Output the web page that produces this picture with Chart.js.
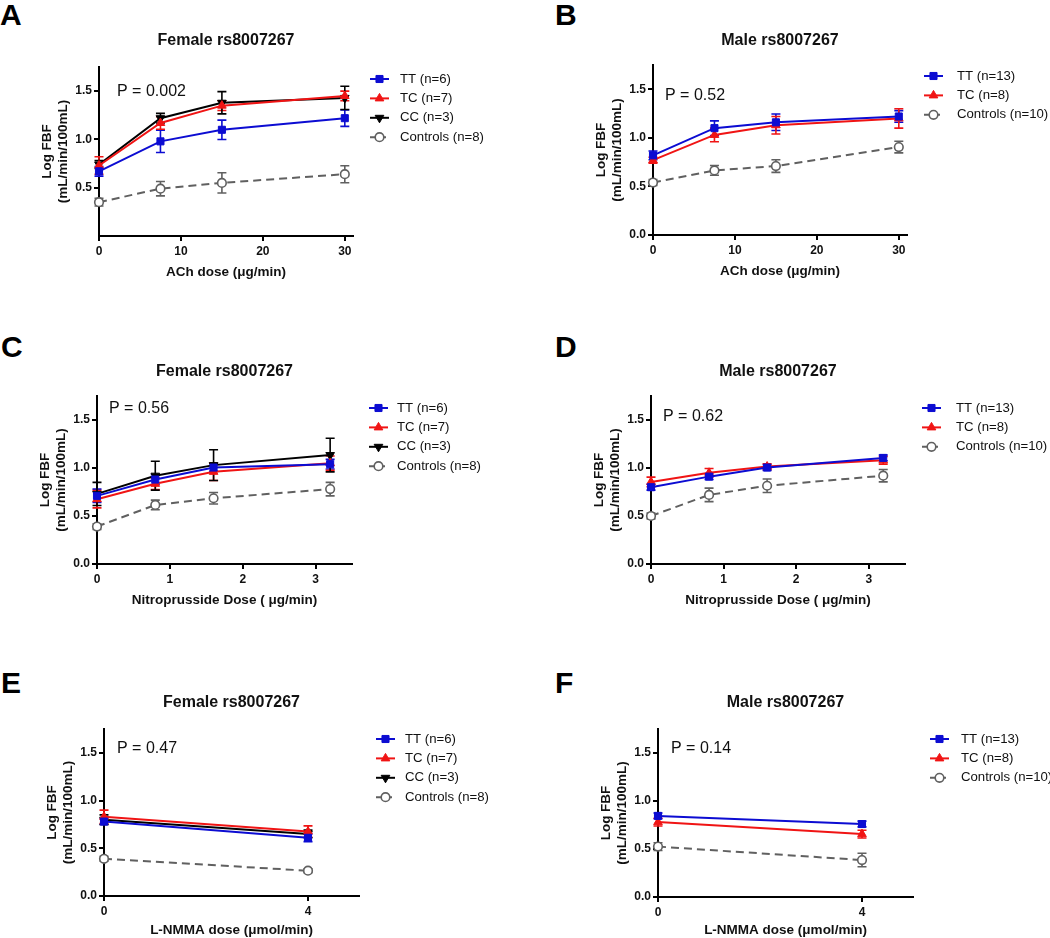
<!DOCTYPE html>
<html>
<head>
<meta charset="utf-8">
<script src="https://cdn.jsdelivr.net/npm/chart.js@4.4.1/dist/chart.umd.min.js"></script>
<style>
  html, body { margin: 0; padding: 0; background: #fff; }
  #page { position: relative; width: 1050px; height: 938px; overflow: hidden; background: #fff; }
  #page canvas { position: absolute; }
  .letter { position: absolute; font: bold 30px "Liberation Sans", Arial, sans-serif; line-height: 30px; color: #000; }
</style>
</head>
<body>
<div id="page">
  <div class="letter" style="left:0px;top:0px">A</div>
  <div class="letter" style="left:555px;top:0px">B</div>
  <div class="letter" style="left:1px;top:332px">C</div>
  <div class="letter" style="left:555px;top:332px">D</div>
  <div class="letter" style="left:1px;top:668px">E</div>
  <div class="letter" style="left:555px;top:668px">F</div>
</div>
<script>
// doses (x) and tick labels
const achDose = [0, 7.5, 15, 30];
const nitroDose = [0, 0.8, 1.6, 3.2];
const lnmmaDose = [0, 4];
const achTicks = [0, 10, 20, 30];
const nitroTicks = [0, 1, 2, 3];
const lnmmaTicks = [0, 4];
const fbfTicks = [0, 0.5, 1.0, 1.5];
const fbfTicksNoZero = [0.5, 1.0, 1.5];

const femaleLabels = ['TT (n=6)', 'TC (n=7)', 'CC (n=3)', 'Controls (n=8)'];
const maleLabels = ['TT (n=13)', 'TC (n=8)', 'Controls (n=10)'];

// A: female, ACh
const fAchTT = [0.67, 0.98, 1.10, 1.22];
const fAchTTse = [0.05, 0.115, 0.10, 0.085];
const fAchTC = [0.73, 1.17, 1.35, 1.45];
const fAchTCse = [0.09, 0.065, 0.05, 0.05];
const fAchCC = [0.74, 1.22, 1.38, 1.43];
const fAchCCse = [0.04, 0.05, 0.115, 0.12];
const fAchCtl = [0.35, 0.49, 0.55, 0.64];
const fAchCtlse = [0.04, 0.075, 0.105, 0.088];

// B: male, ACh
const mAchTT = [0.82, 1.10, 1.16, 1.22];
const mAchTTse = [0.045, 0.075, 0.085, 0.06];
const mAchTC = [0.77, 1.03, 1.13, 1.20];
const mAchTCse = [0.03, 0.07, 0.09, 0.10];
const mAchCtl = [0.54, 0.665, 0.71, 0.905];
const mAchCtlse = [0.03, 0.05, 0.065, 0.06];

// C: female, nitroprusside
const fNpTT = [0.71, 0.88, 1.005, 1.04];
const fNpTTse = [0.07, 0.05, 0.04, 0.05];
const fNpTC = [0.675, 0.835, 0.96, 1.05];
const fNpTCse = [0.09, 0.06, 0.09, 0.075];
const fNpCC = [0.73, 0.92, 1.03, 1.135];
const fNpCCse = [0.12, 0.15, 0.16, 0.175];
const fNpCtl = [0.39, 0.615, 0.685, 0.78];
const fNpCtlse = [0.03, 0.05, 0.06, 0.07];

// D: male, nitroprusside
const mNpTT = [0.80, 0.91, 1.005, 1.105];
const mNpTTse = [0.03, 0.03, 0.03, 0.03];
const mNpTC = [0.855, 0.95, 1.015, 1.08];
const mNpTCse = [0.05, 0.045, 0.03, 0.04];
const mNpCtl = [0.50, 0.72, 0.815, 0.92];
const mNpCtlse = [0.03, 0.07, 0.07, 0.065];

// E: female, L-NMMA
const fLnTT = [0.78, 0.61];
const fLnTTse = [0.03, 0.04];
const fLnTC = [0.83, 0.675];
const fLnTCse = [0.07, 0.06];
const fLnCC = [0.80, 0.65];
const fLnCCse = [0.05, 0.04];
const fLnCtl = [0.39, 0.265];
const fLnCtlse = [0.025, 0.02];

// F: male, L-NMMA
const mLnTT = [0.845, 0.76];
const mLnTTse = [0.03, 0.03];
const mLnTC = [0.78, 0.655];
const mLnTCse = [0.04, 0.04];
const mLnCtl = [0.525, 0.385];
const mLnCtlse = [0.04, 0.07];

const FONT = '"Liberation Sans", Arial, Helvetica, sans-serif';
Chart.defaults.font.family = FONT;
Chart.defaults.color = '#111';

const seriesStyle = {
    TT: { color: '#0c0cd2', fill: '#0c0cd2', point: 'rect', rot: 0, radius: 5, pbw: 1, dash: [] },
    TC: { color: '#f01414', fill: '#f01414', point: 'triangle', rot: 0, radius: 5, pbw: 1, dash: [] },
    CC: { color: '#000000', fill: '#000000', point: 'triangle', rot: 180, radius: 5, pbw: 1, dash: [] },
    Controls: { color: '#606060', fill: '#ffffff', point: 'circle', rot: 0, radius: 4.3, pbw: 1.6, dash: [8, 5] }
};

const panels = [
    { box: [0, 0, 525, 305], area: [99, 67, 353, 236], titleY: 41, xGap: 36,
      title: 'Female rs8007267', xTitle: 'ACh dose (μg/min)', xs: achDose, xMax: 31, xTicks: achTicks, yTicks: fbfTicksNoZero,
      pText: 'P = 0.002', pDx: 18, pDy: 25, legDx: 47, legTop: 12, labels: femaleLabels,
      series: [['TT', fAchTT, fAchTTse], ['TC', fAchTC, fAchTCse], ['CC', fAchCC, fAchCCse], ['Controls', fAchCtl, fAchCtlse]] },
    { box: [525, 0, 525, 305], area: [653, 65, 907, 235], titleY: 41, xGap: 36,
      title: 'Male rs8007267', xTitle: 'ACh dose (μg/min)', xs: achDose, xMax: 31, xTicks: achTicks, yTicks: fbfTicks,
      pText: 'P = 0.52', pDx: 12, pDy: 31, legDx: 50, legTop: 11, labels: maleLabels,
      series: [['TT', mAchTT, mAchTTse], ['TC', mAchTC, mAchTCse], ['Controls', mAchCtl, mAchCtlse]] },
    { box: [0, 305, 525, 310], area: [97, 396, 352, 564], titleY: 372, xGap: 36,
      title: 'Female rs8007267', xTitle: 'Nitroprusside Dose ( μg/min)', xs: nitroDose, xMax: 3.5, xTicks: nitroTicks, yTicks: fbfTicks,
      pText: 'P = 0.56', pDx: 12, pDy: 13, legDx: 45, legTop: 12, labels: femaleLabels,
      series: [['TT', fNpTT, fNpTTse], ['TC', fNpTC, fNpTCse], ['CC', fNpCC, fNpCCse], ['Controls', fNpCtl, fNpCtlse]] },
    { box: [525, 305, 525, 310], area: [651, 396, 905, 564], titleY: 372, xGap: 36,
      title: 'Male rs8007267', xTitle: 'Nitroprusside Dose ( μg/min)', xs: nitroDose, xMax: 3.5, xTicks: nitroTicks, yTicks: fbfTicks,
      pText: 'P = 0.62', pDx: 12, pDy: 21, legDx: 51, legTop: 12, labels: maleLabels,
      series: [['TT', mNpTT, mNpTTse], ['TC', mNpTC, mNpTCse], ['Controls', mNpCtl, mNpCtlse]] },
    { box: [0, 615, 525, 323], area: [104, 729, 359, 896], titleY: 703, xGap: 34,
      title: 'Female rs8007267', xTitle: 'L-NMMA dose (μmol/min)', xs: lnmmaDose, xMax: 5, xTicks: lnmmaTicks, yTicks: fbfTicks,
      pText: 'P = 0.47', pDx: 13, pDy: 20, legDx: 46, legTop: 10, labels: femaleLabels,
      series: [['TT', fLnTT, fLnTTse], ['TC', fLnTC, fLnTCse], ['CC', fLnCC, fLnCCse], ['Controls', fLnCtl, fLnCtlse]] },
    { box: [525, 615, 525, 323], area: [658, 729, 913, 897], titleY: 703, xGap: 33,
      title: 'Male rs8007267', xTitle: 'L-NMMA dose (μmol/min)', xs: lnmmaDose, xMax: 5, xTicks: lnmmaTicks, yTicks: fbfTicks,
      pText: 'P = 0.14', pDx: 13, pDy: 20, legDx: 48, legTop: 10, labels: maleLabels,
      series: [['TT', mLnTT, mLnTTse], ['TC', mLnTC, mLnTCse], ['Controls', mLnCtl, mLnCtlse]] }
];

// marker shape like Chart.js drawPoint
function drawMarker(ctx, s, x, y) {
    const r = s.radius;
    const rad = s.rot * Math.PI / 180;
    ctx.beginPath();
    if (s.point === 'rect') {
        const h = Math.SQRT1_2 * r;
        ctx.rect(x - h, y - h, 2 * h, 2 * h);
    } else if (s.point === 'triangle') {
        let a = rad;
        ctx.moveTo(x + Math.sin(a) * r, y - Math.cos(a) * r);
        a += 2 * Math.PI / 3;
        ctx.lineTo(x + Math.sin(a) * r, y - Math.cos(a) * r);
        a += 2 * Math.PI / 3;
        ctx.lineTo(x + Math.sin(a) * r, y - Math.cos(a) * r);
        ctx.closePath();
    } else {
        ctx.arc(x, y, r, 0, Math.PI * 2);
    }
    ctx.fillStyle = s.fill;
    ctx.fill();
    ctx.lineWidth = s.pbw;
    ctx.strokeStyle = s.color;
    ctx.stroke();
}

function makeDataset(label, key, xs, ys, se) {
    const s = seriesStyle[key];
    return {
        label: label,
        styleKey: key,
        se: se,
        data: xs.map((x, i) => ({ x: x, y: ys[i] })),
        borderColor: s.color,
        backgroundColor: s.fill,
        borderWidth: 2,
        borderDash: s.dash,
        pointStyle: s.point,
        pointRotation: s.rot,
        pointRadius: s.radius,
        pointHoverRadius: s.radius,
        pointBackgroundColor: s.fill,
        pointBorderColor: s.color,
        pointBorderWidth: s.pbw,
        tension: 0,
        fill: false,
        clip: false
    };
}

const page = document.getElementById('page');
const Y_W = 60;

panels.forEach(p => {
    const [cx, cy, cw, ch] = p.box;
    const [l, t, r, b] = p.area;
    const xH = p.xGap + 8.1;

    const canvas = document.createElement('canvas');
    canvas.width = cw;
    canvas.height = ch;
    canvas.style.left = cx + 'px';
    canvas.style.top = cy + 'px';
    canvas.style.width = cw + 'px';
    canvas.style.height = ch + 'px';
    page.appendChild(canvas);

    const datasets = p.series.map((sr, i) => makeDataset(p.labels[i], sr[0], p.xs, sr[1], sr[2]));

    // error bars (SEM), drawn under the lines and markers
    const errorBars = {
        id: 'errorBars',
        beforeDatasetsDraw(chart) {
            const ctx = chart.ctx;
            const yScale = chart.scales.y;
            chart.data.datasets.forEach((ds, di) => {
                const meta = chart.getDatasetMeta(di);
                ctx.save();
                ctx.strokeStyle = ds.borderColor;
                ctx.lineWidth = 1.6;
                meta.data.forEach((pt, i) => {
                    const v = ds.data[i].y;
                    const e = ds.se[i];
                    const yTop = yScale.getPixelForValue(v + e);
                    const yBot = yScale.getPixelForValue(v - e);
                    ctx.beginPath();
                    ctx.moveTo(pt.x, yTop); ctx.lineTo(pt.x, yBot);
                    ctx.moveTo(pt.x - 4.5, yTop); ctx.lineTo(pt.x + 4.5, yTop);
                    ctx.moveTo(pt.x - 4.5, yBot); ctx.lineTo(pt.x + 4.5, yBot);
                    ctx.stroke();
                });
                ctx.restore();
            });
        }
    };

    // legend and P value text
    const decor = {
        id: 'decor',
        afterDraw(chart) {
            const ctx = chart.ctx;
            const a = chart.chartArea;
            ctx.save();
            chart.data.datasets.forEach((ds, i) => {
                const s = seriesStyle[ds.styleKey];
                const y = a.top + p.legTop + i * 19.4;
                const x0 = a.right + 17, x1 = a.right + 36;
                ctx.strokeStyle = s.color;
                ctx.lineWidth = 2;
                ctx.setLineDash(s.dash.length ? [6, 4] : []);
                ctx.beginPath();
                ctx.moveTo(x0, y); ctx.lineTo(x1, y);
                ctx.stroke();
                ctx.setLineDash([]);
                drawMarker(ctx, s, (x0 + x1) / 2, y);
                ctx.fillStyle = '#111';
                ctx.font = '13.2px ' + FONT;
                ctx.textAlign = 'left';
                ctx.textBaseline = 'middle';
                ctx.fillText(ds.label, a.right + p.legDx, y);
            });
            ctx.fillStyle = '#111';
            ctx.font = '16px ' + FONT;
            ctx.textAlign = 'left';
            ctx.textBaseline = 'middle';
            ctx.fillText(p.pText, a.left + p.pDx, a.top + p.pDy);
            ctx.restore();
        }
    };

    new Chart(canvas.getContext('2d'), {
        type: 'line',
        data: { datasets: datasets },
        plugins: [errorBars, decor],
        options: {
            responsive: false,
            animation: false,
            devicePixelRatio: 1,
            events: [],
            layout: {
                padding: {
                    left: l - cx - Y_W,
                    top: p.titleY - cy - 9.6,
                    right: cx + cw - r,
                    bottom: cy + ch - b - xH
                }
            },
            plugins: {
                legend: { display: false },
                tooltip: { enabled: false },
                title: {
                    display: true,
                    text: p.title,
                    fullSize: false,
                    color: '#111',
                    font: { size: 16, weight: 'bold', lineHeight: 1.2 },
                    padding: { top: 0, bottom: t - p.titleY - 9.6 }
                }
            },
            scales: {
                x: {
                    type: 'linear',
                    min: 0,
                    max: p.xMax,
                    afterBuildTicks: scale => { scale.ticks = p.xTicks.map(v => ({ value: v })); },
                    afterFit: scale => { scale.height = xH; },
                    grid: { drawOnChartArea: false, drawTicks: true, tickLength: 5, color: '#000', lineWidth: 2 },
                    border: { display: true, color: '#000', width: 2 },
                    ticks: {
                        padding: 3,
                        color: '#111',
                        font: { size: 12, weight: 'bold' },
                        maxRotation: 0,
                        callback: v => String(v)
                    },
                    title: {
                        display: true,
                        text: p.xTitle,
                        color: '#111',
                        padding: 0,
                        font: { size: 13.5, weight: 'bold', lineHeight: 1.2 }
                    }
                },
                y: {
                    type: 'linear',
                    min: 0,
                    max: 1.75,
                    afterBuildTicks: scale => { scale.ticks = p.yTicks.map(v => ({ value: v })); },
                    afterFit: scale => { scale.width = Y_W; },
                    grid: { drawOnChartArea: false, drawTicks: true, tickLength: 5, color: '#000', lineWidth: 2 },
                    border: { display: true, color: '#000', width: 2 },
                    ticks: {
                        padding: 2,
                        color: '#111',
                        font: { size: 12, weight: 'bold' },
                        callback: v => Number(v).toFixed(1)
                    },
                    title: {
                        display: true,
                        text: ['Log FBF', '(mL/min/100mL)'],
                        color: '#111',
                        padding: 0,
                        font: { size: 13.5, weight: 'bold', lineHeight: 1.2 }
                    }
                }
            }
        }
    });
});
</script>
</body>
</html>
